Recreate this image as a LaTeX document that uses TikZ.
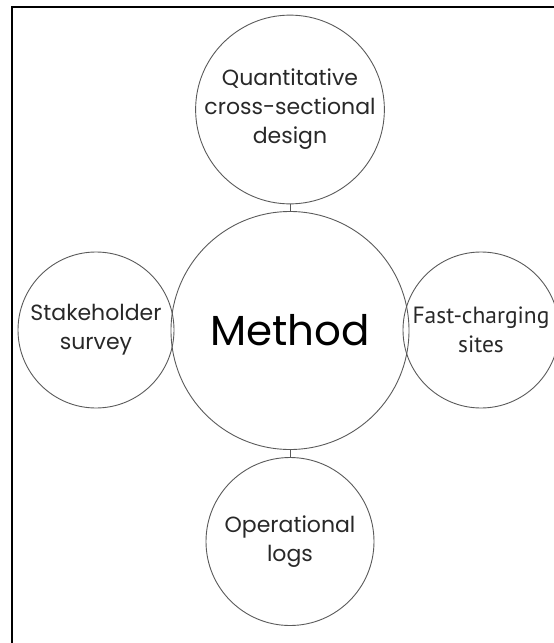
\documentclass[tikz,border=0pt]{standalone}
\usepackage{fontspec}
\setmainfont{Poppins}
\newfontfamily\narrowfont{PT Sans}
\usepackage{xcolor}
\usepackage{tikz}
\usetikzlibrary{positioning, shapes.geometric}
\definecolor{RingGray}{RGB}{90, 90, 90}
\definecolor{InkDark}{RGB}{40, 40, 40}
\tikzset{
	ring/.style={circle, draw=RingGray, line width=0.9pt, inner sep=0pt, align=center,
		text=InkDark, font=\fontsize{22}{29}\selectfont},
	link/.style={draw=RingGray, line width=0.9pt},
}

\begin{document}
\begin{tikzpicture}[x=1pt, y=-1pt]
	\useasboundingbox (0,0) rectangle (554,643);
	% frame, only its left and top edges fall inside the page
	\draw[line width=1.6pt] (12,7) rectangle (600,700);

	\node[ring, minimum size=238pt, text=black,
		font=\fontsize{42}{48}\selectfont] (method) at (290,330.5) {Method};
	\node[ring, minimum size=181pt] (design) at (290,109.5)
		{Quantitative\\cross-sectional\\design};
	\node[ring, minimum size=156pt] (survey) at (96,330)
		{Stakeholder\\survey};
	\node[ring, minimum size=156pt,
		font=\narrowfont\fontsize{23.5}{29}\selectfont] (sites) at (481,330)
		{Fast-charging\\sites};
	\node[ring, minimum size=168pt] (logs) at (290,541.5)
		{Operational\\logs};

	\draw[link] (design.south) -- (method.north);
	\draw[link] (method.south) -- (logs.north);
\end{tikzpicture}
\end{document}
